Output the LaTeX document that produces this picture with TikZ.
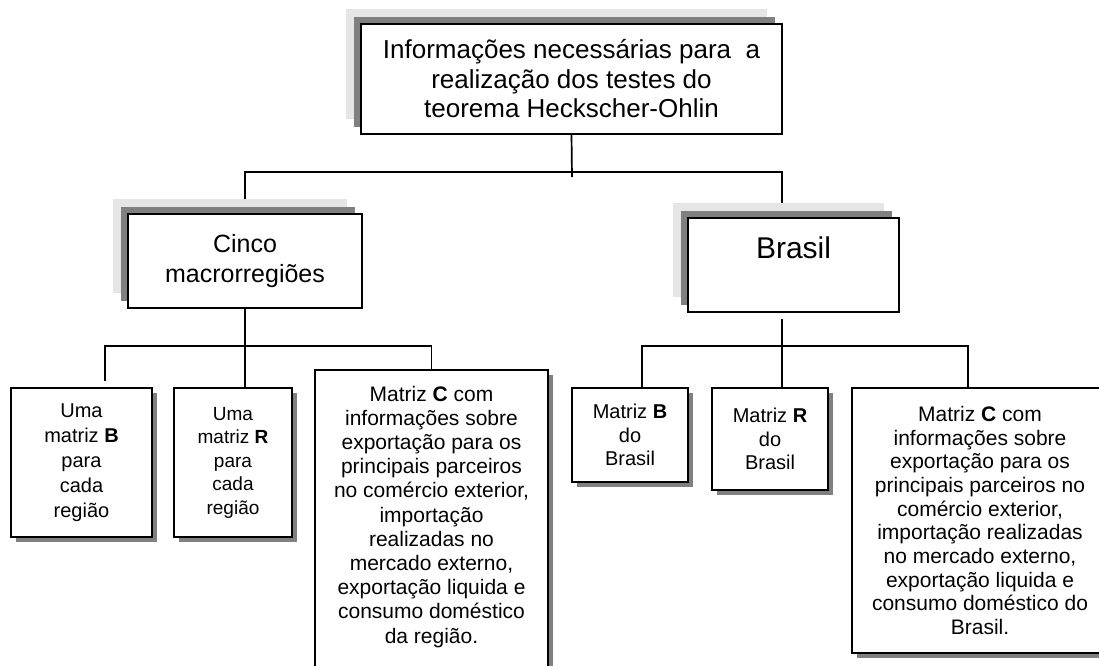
\documentclass[tikz,border=0pt]{standalone}
\usepackage{fontspec}
\setmainfont{Liberation Sans}
\usetikzlibrary{shadows,backgrounds}
\definecolor{darkshade}{gray}{0.5}
\definecolor{lightshade}{gray}{0.9}

\begin{document}
\begin{tikzpicture}[x=1pt,y=-1pt,line width=1.6pt,
	head node/.style={draw,fill=white,align=center,inner sep=2pt,
		general shadow={fill=lightshade,shadow xshift=-15pt,shadow yshift=15pt},
		general shadow={fill=darkshade,shadow xshift=-7pt,shadow yshift=7pt}},
	leaf node/.style={draw,fill=white,align=center,inner sep=2pt,
		general shadow={fill=darkshade,shadow xshift=5pt,shadow yshift=-5pt}},
	link/.style={line width=1.7pt}]
\useasboundingbox (0,0) rectangle (1099,665);
% level 0 and 1
\node[head node,minimum width=421pt,minimum height=110pt,font=\fontsize{26}{29.5}\selectfont] (top) at (571.5,79)
	{Informações necessárias para\ \ a\\realização dos testes do\\teorema Heckscher-Ohlin};
\node[head node,minimum width=234pt,minimum height=94pt,font=\fontsize{25}{30}\selectfont] (cinco) at (245,261)
	{Cinco\\macrorregiões};
\node[head node,minimum width=211pt,minimum height=94pt,font=\fontsize{30}{34.5}\selectfont] (brasil) at (793.5,265)
	{Brasil\\\mbox{}};
% regions
\node[leaf node,minimum width=141pt,minimum height=149pt,font=\fontsize{20}{25}\selectfont] (b1) at (81.5,462.5)
	{Uma\\matriz \textbf{B}\\para\\cada\\região};
\node[leaf node,minimum width=118pt,minimum height=149pt,font=\fontsize{19}{23.5}\selectfont] (r1) at (233,462.5)
	{Uma\\matriz \textbf{R}\\para\\cada\\região};
\node[leaf node,anchor=north,minimum width=233pt,inner ysep=16pt,font=\fontsize{21}{24.2}\selectfont] (c1) at (431.5,369)
	{Matriz \textbf{C} com\\informações sobre\\exportação para os\\principais parceiros\\no comércio exterior,\\importação\\realizadas no\\mercado externo,\\exportação liquida e\\consumo doméstico\\da região.\\[40pt]\mbox{}};
% Brasil
\node[leaf node,minimum width=116pt,minimum height=94pt,font=\fontsize{20}{23.3}\selectfont] (b2) at (630,435)
	{Matriz \textbf{B}\\do\\Brasil};
\node[leaf node,minimum width=116pt,minimum height=102pt,font=\fontsize{20}{23.3}\selectfont] (r2) at (770,439)
	{Matriz \textbf{R}\\do\\Brasil};
\node[leaf node,minimum width=256pt,minimum height=265pt,font=\fontsize{21}{23.7}\selectfont] (c2) at (980,520.5)
	{Matriz \textbf{C} com\\informações sobre\\exportação para os\\principais parceiros no\\comércio exterior,\\importação realizadas\\no mercado externo,\\exportação liquida e\\consumo doméstico do\\Brasil.};
\coordinate (j0) at (572,172);
\coordinate (jl) at (245,346);
\coordinate (jr) at (782,346);
\begin{pgfonlayer}{background}
\draw[link] (top.south) -- ([yshift=-5pt]j0);
\draw[link] (cinco.north) |- (j0) -| ([xshift=-11.5pt]brasil.north);
\draw[link] (cinco.south) -- (jl);
\draw[link] ([xshift=-11.5pt,yshift=-6pt]brasil.south) -- (jr);
\draw[link] ([xshift=23.5pt,yshift=6pt]b1.north) |- (jl) -| (c1.north);
\draw[link] (jl) -- (r1.north -| jl);
\draw[link] ([xshift=12pt]b2.north) |- (jr) -| ([xshift=-12pt]c2.north);
\draw[link] (jr) -- (r2.north -| jr);
\end{pgfonlayer}
\end{tikzpicture}
\end{document}
